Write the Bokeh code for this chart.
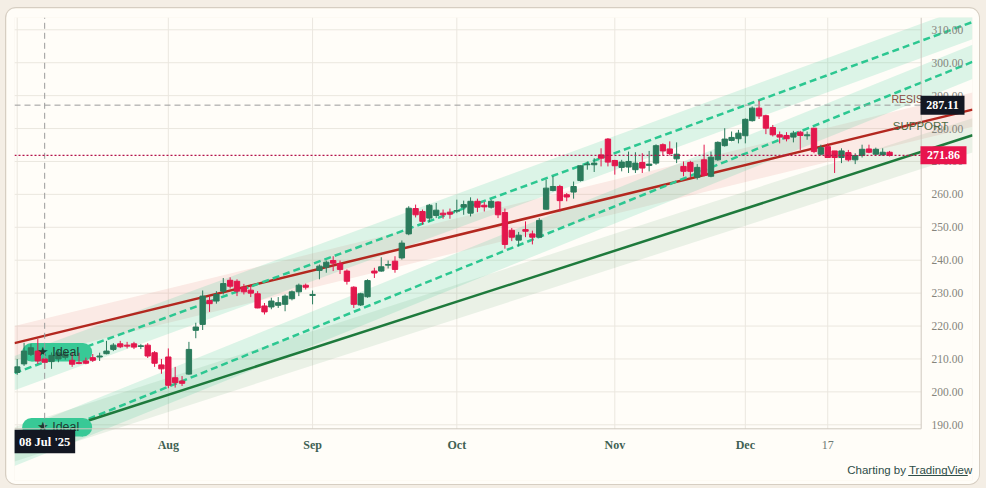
import numpy as np
from bokeh.plotting import figure
from bokeh.models import Range1d, ColumnDataSource
from bokeh.layouts import column
from bokeh.embed import file_html
from bokeh.resources import INLINE
from bokeh.core.properties import value

# ---------------- data ----------------
# trading-day index, 0 = 01 Aug 2025 (first bar = 01 Jul 2025, last = 31 Dec 2025)
bar_index = list(range(-22, 106))
opens = [205.9, 208.5, 211.4, 212.4, 210.0, 209.2, 210.0, 210.5, 209.6, 208.9, 209.4, 210.4, 210.6, 211.6, 212.9, 214.6,
         214.2, 214.6, 213.8, 214.2, 211.9, 208.2,
         210.6, 204.3, 203.3, 205.4, 218.7, 220.5, 227.8, 227.6, 230.6, 233.9, 233.6, 231.8, 230.9, 229.8, 226.1, 225.8,
         226.3, 226.6, 228.3, 230.4, 232.4,
         229.3, 236.9, 237.9, 239.9, 238.9, 236.7, 231.8, 226.4, 228.9, 236.7, 236.7, 238.5, 239.7, 240.7, 248.0, 255.7,
         254.8, 252.8, 253.6, 254.3, 254.6,
         254.9, 256.1, 254.3, 257.9, 256.7, 256.1, 257.7, 254.5, 249.1, 246.1, 249.3, 248.0, 247.0, 255.5, 261.2, 262.4,
         259.9, 260.7, 264.2, 269.0, 269.0, 272.0, 276.8,
         270.3, 268.2, 268.3, 267.5, 269.7, 268.8, 269.5, 275.1, 273.8, 270.8, 268.5, 269.7, 265.2, 270.5, 265.5, 270.5,
         274.8, 276.4, 276.9,
         277.8, 282.4, 286.2, 283.9, 280.3, 278.1, 277.9, 277.4, 278.9, 277.8, 280.1, 272.2, 274.5, 273.2, 271.2, 272.7,
         270.5, 271.8, 273.8, 272.2, 272.0, 272.8]
highs = [210.0, 214.9, 214.6, 216.1, 210.6, 212.0, 213.0, 212.5, 211.8, 211.9, 210.4, 211.5, 211.9, 215.5, 214.8, 215.5,
         215.2, 215.2, 214.5, 214.8, 212.4, 210.0,
         213.2, 207.6, 204.8, 215.2, 221.0, 230.8, 229.1, 230.6, 234.6, 234.8, 234.2, 232.8, 232.6, 230.6, 227.0, 228.6,
         228.8, 229.6, 230.8, 232.9, 232.9,
         230.8, 238.7, 239.9, 241.2, 239.9, 237.2, 232.1, 230.1, 234.2, 237.7, 240.9, 239.9, 241.2, 246.0, 256.4, 256.9,
         255.4, 257.1, 257.4, 255.4, 255.7,
         258.4, 258.1, 259.1, 258.7, 257.7, 258.4, 257.9, 255.7, 249.8, 248.6, 251.8, 249.0, 252.8, 264.5, 265.5, 262.9,
         260.4, 263.9, 268.8, 270.0, 271.0, 274.0, 277.1,
         270.5, 270.5, 273.0, 272.8, 272.5, 273.2, 275.2, 275.5, 276.1, 275.8, 270.0, 270.2, 269.2, 275.1, 273.0, 276.1,
         280.1, 279.1, 279.6,
         283.1, 286.7, 288.5, 284.2, 281.1, 279.1, 278.9, 279.3, 279.3, 279.1, 280.1, 275.1, 275.5, 273.2, 274.0, 273.5,
         272.5, 275.1, 275.1, 274.2, 274.0, 273.2]
lows = [205.2, 207.9, 210.9, 208.5, 207.0, 207.0, 209.0, 209.8, 207.6, 208.4, 208.4, 209.1, 209.4, 211.4, 212.4, 213.3,
        213.2, 213.0, 213.0, 210.3, 207.6, 205.5,
        201.1, 201.3, 201.8, 205.2, 216.3, 218.8, 224.3, 226.8, 229.6, 231.4, 229.1, 229.6, 228.8, 225.4, 223.5, 225.1,
        225.5, 224.5, 227.8, 229.1, 231.1,
        226.6, 234.2, 236.2, 236.7, 235.8, 232.6, 225.5, 226.1, 228.6, 234.6, 236.5, 237.5, 236.2, 240.2, 247.6, 253.0,
        250.8, 251.6, 252.8, 252.6, 252.6,
        254.3, 253.8, 253.3, 254.6, 254.8, 255.7, 252.8, 243.5, 245.8, 244.2, 247.0, 244.8, 247.0, 255.4, 260.9, 254.8,
        257.9, 258.7, 263.9, 267.5, 266.8, 268.5, 268.5,
        266.0, 267.0, 266.5, 266.5, 266.5, 267.0, 269.0, 271.8, 271.8, 269.5, 265.5, 265.2, 264.5, 265.5, 265.2, 270.2,
        274.5, 276.1, 275.5,
        275.5, 282.1, 282.9, 278.3, 277.6, 275.5, 276.1, 275.8, 273.5, 276.6, 272.5, 271.8, 271.2, 266.5, 269.5, 270.0,
        269.2, 271.2, 272.5, 271.8, 271.8, 271.5]
closes = [207.6, 212.4, 213.4, 209.4, 209.0, 211.1, 211.9, 211.5, 208.4, 208.6, 208.7, 209.6, 210.9, 212.4, 214.2, 213.7,
          213.9, 213.6, 214.0, 210.9, 208.7, 207.0,
          202.0, 202.8, 202.6, 212.9, 219.7, 229.1, 226.8, 229.6, 232.9, 232.1, 230.6, 230.4, 230.0, 225.5, 224.3, 227.6,
          227.1, 229.1, 230.4, 232.4, 231.8,
          229.6, 238.2, 239.4, 239.1, 237.2, 233.6, 226.6, 229.8, 233.8, 236.1, 238.0, 238.7, 237.2, 245.2, 255.8, 253.8,
          251.8, 256.7, 255.2, 253.8, 254.0,
          255.1, 256.9, 257.9, 256.1, 256.2, 257.9, 253.8, 244.8, 247.0, 247.6, 248.8, 247.0, 252.1, 261.9, 262.4, 258.1,
          259.2, 262.4, 268.7, 269.2, 269.5, 271.0, 269.8,
          268.7, 269.8, 270.0, 269.5, 268.0, 269.2, 274.8, 273.2, 272.4, 272.2, 267.0, 267.0, 268.2, 265.8, 271.3, 275.8,
          276.8, 277.3, 278.6,
          282.8, 286.2, 283.8, 280.1, 278.1, 277.4, 276.9, 278.6, 277.9, 278.1, 273.0, 274.2, 271.2, 271.2, 273.2, 270.5,
          271.8, 273.7, 272.8, 273.7, 272.8, 271.86]

x_tick_index = [0, 21, 42, 65, 84, 96]
x_tick_labels = ["Aug", "Sep", "Oct", "Nov", "Dec", "17"]
x_tick_is_month = [True, True, True, True, True, False]
x_grid_index = [-22, 0, 21, 42, 65, 84, 96]

y_ticks = [190, 200, 210, 220, 230, 240, 250, 260, 270, 280, 290, 300, 310]
y_tick_labels = ["%.2f" % v for v in y_ticks]

# drawn trend lines (two anchors each: bar index, price)
resistance_x = [-22.4, 117.0]
resistance_y = [214.8, 285.7]
upper_channel_x = [-22.4, 117.0]
upper_channel_y = [205.7, 312.3]
lower_channel_x = [-11.6, 117.0]
lower_channel_y = [191.8, 300.2]
support_x = [-11.6, 117.0]
support_y = [191.3, 277.9]
band_half_width = 5.2

crosshair_index = -18
crosshair_date = "08 Jul '25"
crosshair_price = 287.11
last_price = 271.86

# ---------------- layout helpers (pixel -> data) ----------------
def X(px):
    return -22 + (px - 16.7) / 6.869


def Y(py):
    return 190 + (424.3 - py) / 3.2917


XL, XR = X(14), X(972)
YB, YT = Y(480), Y(17)
X_SCALE = X(920.7)
Y_AXIS = Y(428.3)

CARD = "#fffdf8"
PAGE = "#f4eee5"
GREEN = "#2b7b5c"
RED = "#e3174d"
SERIF = "Liberation Serif"
SANS = "Liberation Sans"

p = figure(width=973, height=476, x_range=Range1d(XL, XR), y_range=Range1d(YB, YT),
           output_backend="svg", toolbar_location=None,
           min_border_left=8, min_border_right=7, min_border_top=9, min_border_bottom=4,
           background_fill_color=CARD, border_fill_color=CARD, outline_line_color=None)
p.xaxis.visible = False
p.yaxis.visible = False
p.xgrid.visible = False
p.ygrid.visible = False
p.styles = {"border-radius": "10px", "box-shadow": "0 0 0 1px #d6cec2", "overflow": "hidden"}

# grid
p.segment(x0=[XL] * len(y_ticks), y0=y_ticks, x1=[X_SCALE] * len(y_ticks), y1=y_ticks,
          line_color="#ebe7df", line_width=1)
p.segment(x0=x_grid_index, y0=[Y_AXIS] * len(x_grid_index), x1=x_grid_index, y1=[YT] * len(x_grid_index),
          line_color="#ebe7df", line_width=1)


def extend(xa, ya, xs):
    m = (ya[1] - ya[0]) / (xa[1] - xa[0])
    xs = np.asarray(xs, dtype=float)
    return xs, ya[0] + m * (xs - xa[0])


def band(xa, ya, color, alpha):
    xs, ys = extend(xa, ya, [XL, XR])
    p.patch(x=[xs[0], xs[1], xs[1], xs[0]],
            y=[ys[0] + band_half_width, ys[1] + band_half_width, ys[1] - band_half_width, ys[0] - band_half_width],
            fill_color=color, fill_alpha=alpha, line_color=None)


band(resistance_x, resistance_y, "#e07a6e", 0.14)
band(upper_channel_x, upper_channel_y, "#2ecc96", 0.17)
band(lower_channel_x, lower_channel_y, "#2ecc96", 0.17)
band(support_x, support_y, "#3d8f5f", 0.11)

xs, ys = extend(resistance_x, resistance_y, [XL, XR])
p.line(xs, ys, line_color="#b3281f", line_width=2.5)
xs, ys = extend(upper_channel_x, upper_channel_y, [XL, XR])
p.line(xs, ys, line_color="#2cc791", line_width=2.5, line_dash="7 4")
xs, ys = extend(lower_channel_x, lower_channel_y, [lower_channel_x[0], XR])
p.line(xs, ys, line_color="#2cc791", line_width=2.5, line_dash="7 4")
xs, ys = extend(support_x, support_y, [support_x[0], XR])
p.line(xs, ys, line_color="#1e7a3c", line_width=2.5)

# "Ideal" pills (below the candles)
pill_cx = X(56.7)
pill_dx = 25.75 / 6.869
for cy in (Y(351.7), Y(426.7)):
    p.rect(x=[pill_cx], y=[cy], width=51.5, height=18.5, width_units="screen", height_units="screen",
           fill_color="#38c996", line_color=None)
    p.scatter(x=[pill_cx - pill_dx, pill_cx + pill_dx], y=[cy, cy], size=18.5, marker="circle",
              fill_color="#38c996", line_color=None)

# candles
o = np.array(opens)
c = np.array(closes)
colors = [GREEN if cc >= oo else RED for oo, cc in zip(o, c)]
src = ColumnDataSource(dict(x=bar_index, h=highs, l=lows, top=np.maximum(o, c), bottom=np.minimum(o, c),
                            color=colors))
p.segment(x0="x", y0="h", x1="x", y1="l", line_color="color", line_width=1, source=src)
p.vbar(x="x", top="top", bottom="bottom", width=0.78, fill_color="color", line_color="color", line_width=1,
       source=src)

# pill labels
for cy in (Y(351.7), Y(426.7)):
    p.text(x=[X(57.5)], y=[cy], text=["\u2605 Ideal"], text_font=value(SANS), text_font_size="12.5px",
           text_color="#1d3a30", text_align="center", text_baseline="middle")

# price scale border and bottom axis line
p.segment(x0=[X_SCALE, XL], y0=[Y_AXIS, Y_AXIS], x1=[X_SCALE, X_SCALE], y1=[YT, Y_AXIS],
          line_color="#cfc9bf", line_width=1)

# crosshair + last price line
p.segment(x0=[crosshair_index], y0=[Y_AXIS], x1=[crosshair_index], y1=[YT], line_color="#9a9a9a",
          line_width=1, line_dash="6 4")
p.segment(x0=[XL], y0=[crosshair_price], x1=[X_SCALE], y1=[crosshair_price], line_color="#9a9a9a",
          line_width=1, line_dash="6 4")
p.segment(x0=[XL], y0=[last_price], x1=[X_SCALE], y1=[last_price], line_color="#b3134b",
          line_width=1.3, line_dash="2 2")

# y tick labels (drawn over the price scale area)
p.text(x=[X(931)] * len(y_ticks), y=y_ticks, text=y_tick_labels, text_font=value(SERIF),
       text_font_size="11.5px", text_color="#85857c", text_align="left", text_baseline="middle")

# x tick labels
for xi, lab, bold in zip(x_tick_index, x_tick_labels, x_tick_is_month):
    p.text(x=[xi], y=[Y(444)], text=[lab], text_font=value(SERIF), text_font_size="12px",
           text_font_style="bold" if bold else "normal",
           text_color="#3f6153" if bold else "#6d7a74", text_align="center", text_baseline="middle")

# drawing names near the scale
p.text(x=[X(891)], y=[Y(98.5)], text=["RESIS"], text_font=value(SANS), text_font_size="10.5px",
       text_color="#8b4c40", text_align="left", text_baseline="middle")
p.text(x=[X(892.3)], y=[Y(125)], text=["SUPPORT"], text_font=value(SANS), text_font_size="11.5px",
       text_color="#4d6a44", text_align="left", text_baseline="middle")

# price labels on scale
p.rect(x=[X(942)], y=[crosshair_price], width=44, height=19, width_units="screen", height_units="screen",
       fill_color="#131722", line_color=None)
p.text(x=[X(942)], y=[crosshair_price], text=["%.2f" % crosshair_price], text_font=value(SERIF),
       text_font_size="12px", text_font_style="bold", text_color="#ffffff", text_align="center",
       text_baseline="middle")
p.rect(x=[X(943)], y=[last_price], width=46, height=18, width_units="screen", height_units="screen",
       fill_color="#e8154d", line_color=None)
p.text(x=[X(943)], y=[last_price], text=["%.2f" % last_price], text_font=value(SERIF),
       text_font_size="12px", text_font_style="bold", text_color="#ffffff", text_align="center",
       text_baseline="middle")

# date label of crosshair
p.rect(x=[crosshair_index], y=[Y(441)], width=61, height=23.5, width_units="screen", height_units="screen",
       fill_color="#131722", line_color=None)
p.text(x=[crosshair_index], y=[Y(441)], text=[crosshair_date], text_font=value(SERIF), text_font_size="12.5px",
       text_font_style="bold", text_color="#ffffff", text_align="center", text_baseline="middle")

# attribution
p.text(x=[X(846.7)], y=[Y(469)], text=["Charting by TradingView"], text_font=value(SANS),
       text_font_size="11.5px", text_color="#2e4d48", text_align="left", text_baseline="middle")
p.segment(x0=[X(907.7)], y0=[Y(475)], x1=[X(967.3)], y1=[Y(475)], line_color="#2e4d48", line_width=1)

page = column(p, styles={"background-color": PAGE, "padding": "8px 7px 4px 6px"})

open("out.html", "w").write(file_html(page, INLINE))
